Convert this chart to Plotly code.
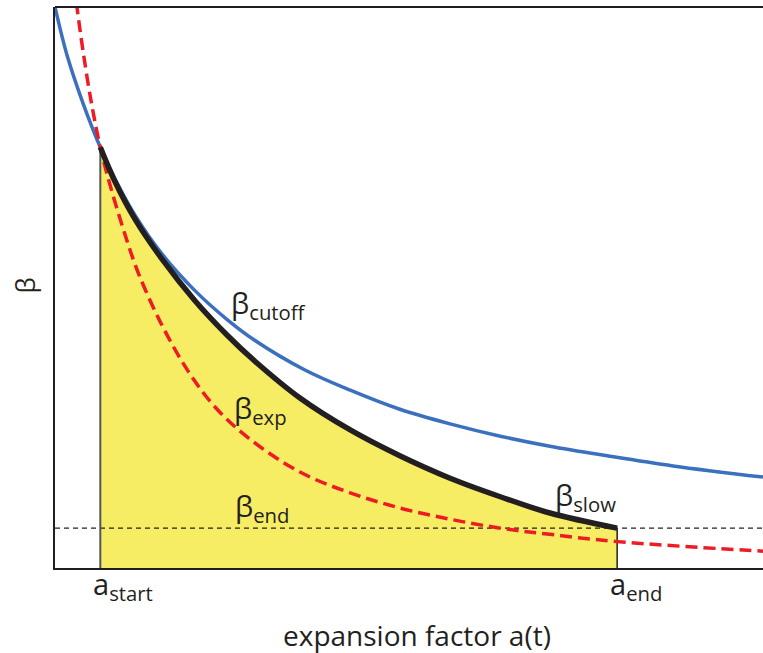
import plotly.graph_objects as go

# ---- data (arbitrary units, axes 0..10) ----
cutoff_a = [0.00, 0.17, 0.40, 0.64, 0.85, 1.13, 1.51, 1.98, 2.44, 2.82, 3.53, 4.17,
            4.87, 5.58, 6.29, 6.99, 7.80, 8.73, 10.00]
cutoff_beta = [10.0, 9.14, 8.27, 7.50, 6.93, 6.29, 5.60, 4.94, 4.42, 4.06, 3.53, 3.17,
               2.83, 2.57, 2.35, 2.17, 2.00, 1.82, 1.62]

exp_a = [0.27, 0.31, 0.40, 0.52, 0.64, 0.75, 0.95, 1.17, 1.51, 1.88, 2.26, 2.75, 3.46,
         4.17, 4.87, 5.58, 6.29, 6.99, 7.94, 10.00]
exp_beta = [10.40, 10.0, 9.18, 8.25, 7.50, 6.95, 6.10, 5.28, 4.33, 3.51, 2.87, 2.30, 1.71,
            1.34, 1.07, 0.87, 0.71, 0.60, 0.47, 0.30]

slow_a = [0.64, 0.85, 1.13, 1.51, 1.98, 2.44, 2.82, 3.46, 4.17, 4.87, 5.58, 6.29,
          6.99, 7.94]
slow_beta = [7.50, 6.88, 6.22, 5.51, 4.76, 4.14, 3.69, 3.03, 2.46, 2.00, 1.60, 1.27,
             0.98, 0.71]

a_start = 0.64
a_end = 7.94
beta_end = 0.71
x_range = [0, 10]
y_range = [0, 10]

# labels: (text, a, beta)
curve_labels = [
    ("β<sub>cutoff</sub>", 2.46, 4.69),
    ("β<sub>exp</sub>", 2.50, 2.82),
    ("β<sub>end</sub>", 2.51, 1.07),
    ("β<sub>slow</sub>", 7.03, 1.27),
]
axis_point_labels = [
    ("a<sub>start</sub>", 0.51),
    ("a<sub>end</sub>", 7.81),
]
x_title = "expansion factor a(t)"
y_title = "β"

TXT = "#231F20"
FONT = "Open Sans"

fig = go.Figure()

# yellow area under beta_slow
fig.add_trace(go.Scatter(
    x=slow_a, y=slow_beta, mode="lines", fill="tozeroy",
    fillcolor="#F6ED64", line=dict(width=0, color="#F6ED64", shape="spline"),
    hoverinfo="skip", showlegend=False))

# beta_end dashed horizontal
fig.add_trace(go.Scatter(
    x=x_range, y=[beta_end, beta_end], mode="lines",
    line=dict(color="#231F20", width=1.2, dash="5px,4px"),
    showlegend=False))

# vertical line at a_start
fig.add_trace(go.Scatter(
    x=[a_start, a_start], y=[0, slow_beta[0]], mode="lines",
    line=dict(color="#555555", width=2), showlegend=False))
# vertical line at a_end
fig.add_trace(go.Scatter(
    x=[a_end, a_end], y=[0, beta_end], mode="lines",
    line=dict(color="#231F20", width=1.5), showlegend=False))

# beta_cutoff (blue)
fig.add_trace(go.Scatter(
    x=cutoff_a, y=cutoff_beta, mode="lines",
    line=dict(color="#3B70BF", width=3.5, shape="spline", smoothing=1.0),
    showlegend=False))

# beta_exp (red dashed)
fig.add_trace(go.Scatter(
    x=exp_a, y=exp_beta, mode="lines",
    line=dict(color="#ED1C24", width=3.5, dash="12px,6px", shape="spline", smoothing=1.0),
    showlegend=False))

# beta_slow (black thick)
fig.add_trace(go.Scatter(
    x=slow_a, y=slow_beta, mode="lines",
    line=dict(color="#231F20", width=5.5, shape="spline", smoothing=1.0),
    showlegend=False))

annotations = []
for text, a, b in curve_labels:
    annotations.append(dict(x=a, y=b, xref="x", yref="y", text=text, showarrow=False,
                            xanchor="left", yanchor="middle",
                            font=dict(family=FONT, size=29, color=TXT)))
for text, a in axis_point_labels:
    annotations.append(dict(x=a, y=-0.031, xref="x", yref="paper", text=text,
                            showarrow=False, xanchor="left", yanchor="middle",
                            font=dict(family=FONT, size=29, color=TXT)))
annotations.append(dict(x=0.511, y=-0.119, xref="paper", yref="paper", text=x_title,
                        showarrow=False, xanchor="center", yanchor="middle",
                        font=dict(family=FONT, size=28, color=TXT)))
annotations.append(dict(x=-0.042, y=0.504, xref="paper", yref="paper", text=y_title,
                        showarrow=False, xanchor="center", yanchor="middle", textangle=-90,
                        font=dict(family=FONT, size=26, color=TXT)))

fig.update_layout(
    width=763, height=653,
    margin=dict(l=55, r=0, t=7, b=85),
    paper_bgcolor="white", plot_bgcolor="white",
    showlegend=False,
    hovermode=False,
    annotations=annotations,
    shapes=[dict(type="line", xref="paper", yref="paper", x0=0, x1=1, y0=1, y1=1,
                 line=dict(color="#231F20", width=2))],
    xaxis=dict(range=x_range, showgrid=False, zeroline=False, showticklabels=False,
               ticks="", showline=True, linecolor="#231F20", linewidth=2),
    yaxis=dict(range=y_range, showgrid=False, zeroline=False, showticklabels=False,
               ticks="", showline=True, linecolor="#231F20", linewidth=2),
)

fig.write_html("out.html",
               config={"displayModeBar": False},
               post_script="document.body.style.margin='0px';document.body.style.overflow='hidden';")
